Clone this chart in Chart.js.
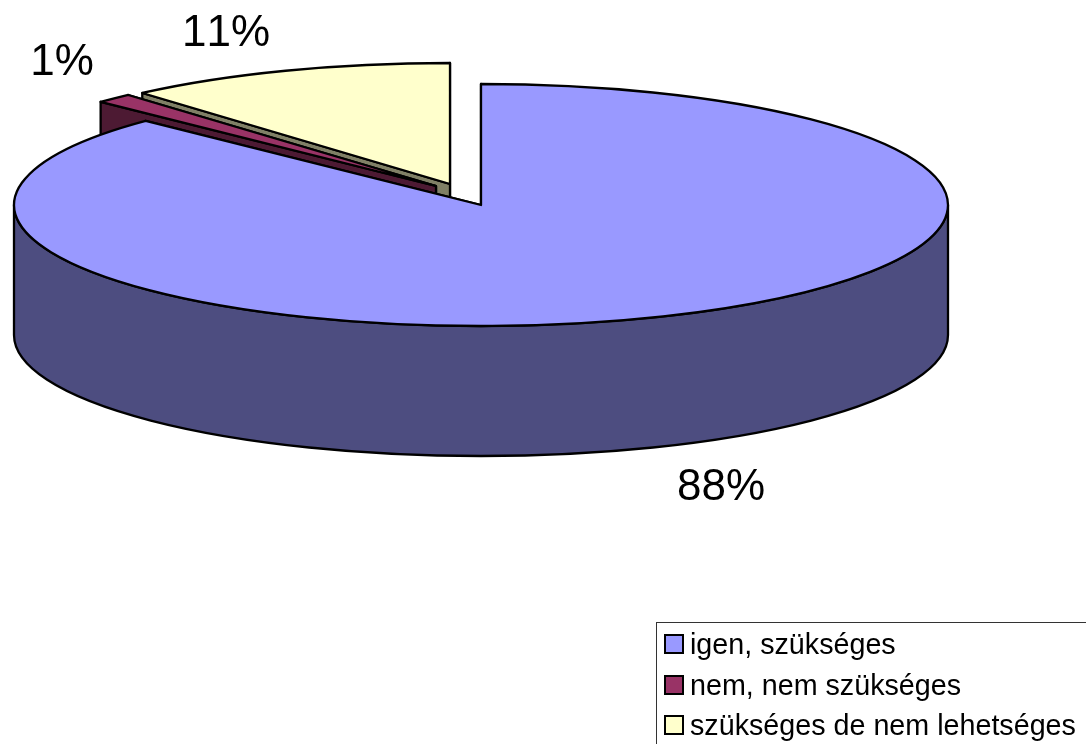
<!DOCTYPE html>
<html>
<head>
<meta charset="utf-8">
<style>
html,body{margin:0;padding:0;background:#fff;overflow:hidden}
canvas{display:block}
</style>
<script src="https://cdn.jsdelivr.net/npm/chart.js@4"></script>
</head>
<body>
<canvas id="c" width="1086" height="744"></canvas>
<script>
/* data */
const categories=['igen, szükséges','nem, nem szükséges','szükséges de nem lehetséges'];
const seriesValues=[87.25,1.3,11.45];
const percentLabels=['88%','1%','11%'];

/* look */
const topColors=['#9999FF','#993366','#FFFFCC'];
const wallColors=['#4D4D80','#4D1A33','#808066'];
const FONT='"Liberation Sans", Arial, sans-serif';
const PIE={x:481,y:205,rx:467,ry:121,depth:130,line:2.3};
const explode=[[0,0],[-45,-19],[-31,-21]];
const labelPos=[[721,500],[62,75],[226,46]];
const LEG={x:656.5,y:622.5,swX:665,swY:[635,676,716],sw:18,txtX:690,txtY:[654,695,735]};

function pt(c,a,dy){
  return [c.x+PIE.rx*Math.cos(a), c.y+PIE.ry*Math.sin(a)+(dy||0)];
}

function drawFace(ctx,c,a,fill){
  const p=pt(c,a), q=pt(c,a,PIE.depth);
  ctx.beginPath();
  ctx.moveTo(c.x,c.y);
  ctx.lineTo(p[0],p[1]);
  ctx.lineTo(q[0],q[1]);
  ctx.lineTo(c.x,c.y+PIE.depth);
  ctx.closePath();
  ctx.fillStyle=fill;
  ctx.fill();
  ctx.stroke();
}

function drawFront(ctx,c,a0,a1,fill){
  const s=Math.max(a0,0), e=Math.min(a1,Math.PI);
  if(e<=s) return;
  ctx.beginPath();
  ctx.ellipse(c.x,c.y,PIE.rx,PIE.ry,0,s,e);
  ctx.ellipse(c.x,c.y+PIE.depth,PIE.rx,PIE.ry,0,e,s,true);
  ctx.closePath();
  ctx.fillStyle=fill;
  ctx.fill();
  ctx.stroke();
}

/* top face goes through the arc element itself, squashed into an ellipse */
function drawTop(chart,el,c){
  const ctx=chart.ctx, dpr=chart.currentDevicePixelRatio||1;
  const nativeStroke=ctx.stroke;
  ctx.stroke=function(){
    ctx.save();
    ctx.setTransform(dpr,0,0,dpr,0,0);
    nativeStroke.call(ctx);
    ctx.restore();
  };
  ctx.save();
  ctx.translate(c.x,c.y);
  ctx.scale(1,PIE.ry/PIE.rx);
  ctx.translate(-el.x,-el.y);
  el.draw(ctx);
  ctx.restore();
  delete ctx.stroke;
}

const pie3d={
  id:'pie3d',
  beforeDatasetDraw(chart,args){
    const ctx=chart.ctx, arcs=args.meta.data;
    ctx.save();
    ctx.strokeStyle='#000';
    ctx.lineWidth=PIE.line;
    ctx.lineJoin='round';
    for(let i=arcs.length-1;i>=0;i--){
      const el=arcs[i];
      const c={x:PIE.x+explode[i][0], y:PIE.y+explode[i][1]};
      drawFace(ctx,c,el.endAngle,wallColors[i]);
      drawFace(ctx,c,el.startAngle,wallColors[i]);
      drawFront(ctx,c,el.startAngle,el.endAngle,wallColors[i]);
      drawTop(chart,el,c);
    }
    ctx.restore();
    return false;
  },
  afterDraw(chart){
    const ctx=chart.ctx;
    ctx.save();
    ctx.fillStyle='#000';
    ctx.textBaseline='alphabetic';
    ctx.textAlign='center';
    ctx.fontKerning='none';
    ctx.font='44px '+FONT;
    percentLabels.forEach((t,i)=>ctx.fillText(t,labelPos[i][0],labelPos[i][1]));

    ctx.strokeStyle='#333';
    ctx.lineWidth=1;
    ctx.strokeRect(LEG.x,LEG.y,600,300);
    ctx.textAlign='left';
    ctx.font='28.7px '+FONT;
    chart.data.labels.forEach((t,i)=>{
      ctx.fillStyle=topColors[i];
      ctx.fillRect(LEG.swX,LEG.swY[i],LEG.sw,LEG.sw);
      ctx.strokeStyle='#000';
      ctx.lineWidth=2;
      ctx.strokeRect(LEG.swX,LEG.swY[i],LEG.sw,LEG.sw);
      ctx.fillStyle='#000';
      ctx.fillText(t,LEG.txtX,LEG.txtY[i]);
    });
    ctx.restore();
  }
};

new Chart(document.getElementById('c'),{
  type:'pie',
  data:{
    labels:categories,
    datasets:[{
      data:seriesValues,
      backgroundColor:topColors,
      borderColor:'#000',
      borderWidth:PIE.line,
      borderJoinStyle:'round',
      radius:PIE.rx
    }]
  },
  options:{
    responsive:false,
    animation:false,
    layout:{padding:0},
    plugins:{legend:{display:false},tooltip:{enabled:false}}
  },
  plugins:[pie3d]
});
</script>
</body>
</html>
